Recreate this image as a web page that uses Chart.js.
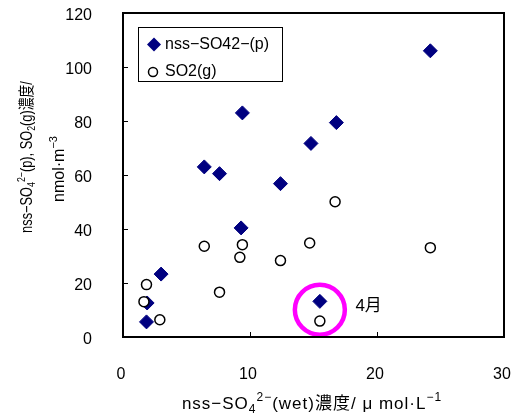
<!DOCTYPE html>
<html>
<head>
<meta charset="utf-8">
<script src="https://cdn.jsdelivr.net/npm/chart.js@4"></script>
<style>
  html, body { margin: 0; padding: 0; background: #fff; }
  #wrap { width: 519px; height: 415px; }
</style>
</head>
<body>
<div id="wrap"><canvas id="chart" width="519" height="415"></canvas></div>
<script>
// ── data ─────────────────────────────────────────
const xTicks = [0, 10, 20, 30];
const yTicks = [0, 20, 40, 60, 80, 100, 120];

// nss-SO4 2- (p) vs wet concentration
const wetP = [24.2, 9.4, 16.8, 14.8, 6.4, 7.6, 12.4, 9.3, 3.0, 15.5, 1.85, 1.9];
const so4p = [106, 83, 79.4, 71.7, 63, 60.5, 56.8, 40.4, 23.3, 13.2, 5.6, 12.6];

// SO2 (g) vs wet concentration
const wetG = [24.2, 9.4, 16.7, 14.7, 6.4, 7.6, 12.4, 9.2, 2.9, 15.5, 1.85, 1.65];
const so2g = [33.1, 34.2, 50.1, 34.8, 33.6, 16.6, 28.3, 29.5, 6.4, 5.9, 19.4, 13.1];

const seriesNames = ['nss−SO42−(p)', 'SO2(g)'];

// highlighted month (April)
const aprilMark  = [15.5, 10.1];
const aprilLabel = '4月';
const aprilText  = [18.3, 11.3];

const FONT = '"Liberation Sans", "Noto Sans CJK JP", sans-serif';
const NAVY = '#000080';

// rich text: [text, 'n' | 'sub' | 'sup']
const xTitle = [['nss−SO', 'n'], ['4', 'sub'], ['2−', 'sup'], ['(wet)濃度/ μ mol·L', 'n'], ['−1', 'sup']];
const yTitle1 = [['nss−SO', 'n'], ['4', 'sub'], ['2−', 'sup'], ['(p), SO', 'n'], ['2', 'sub'], ['(g)濃度/', 'n']];
const yTitle2 = [['nmol·m', 'n'], ['−3', 'sup']];

function drawRich(ctx, segs, cx, cy, opt) {
  const size = opt.size, small = Math.round(size * 0.68);
  const fontOf = k => (k === 'n' ? size : small) + 'px ' + FONT;
  ctx.save();
  ctx.translate(cx, cy);
  if (opt.rot) ctx.rotate(opt.rot);
  if (opt.squeeze) ctx.scale(opt.squeeze, 1);
  ctx.letterSpacing = (opt.spacing || 0) + 'px';
  let w = 0;
  segs.forEach(([t, k]) => { ctx.font = fontOf(k); w += ctx.measureText(t).width; });
  let x = -w / 2;
  ctx.fillStyle = '#000';
  ctx.textBaseline = 'alphabetic';
  ctx.textAlign = 'left';
  segs.forEach(([t, k]) => {
    ctx.font = fontOf(k);
    const dy = k === 'sup' ? -size * 0.45 : k === 'sub' ? size * 0.2 : 0;
    ctx.fillText(t, x, size * 0.36 + dy);
    x += ctx.measureText(t).width;
  });
  ctx.restore();
}

// frame, inner tick marks, legend, titles, label
const decor = {
  id: 'decor',
  afterDraw(chart) {
    const { ctx, chartArea: a, scales } = chart;
    ctx.save();
    ctx.strokeStyle = '#000';
    ctx.lineWidth = 2;
    ctx.strokeRect(a.left, a.top, a.right - a.left, a.bottom - a.top);

    ctx.lineWidth = 1;
    ctx.beginPath();
    yTicks.forEach(v => {
      const y = Math.round(scales.y.getPixelForValue(v)) + 0.5;
      ctx.moveTo(a.left, y); ctx.lineTo(a.left + 5, y);
    });
    xTicks.forEach(v => {
      const x = Math.round(scales.x.getPixelForValue(v)) + 0.5;
      ctx.moveTo(x, a.bottom); ctx.lineTo(x, a.bottom - 5);
    });
    ctx.stroke();

    // legend box
    ctx.lineWidth = 1;
    ctx.strokeRect(138.5, 27.5, 144, 54);
    ctx.fillStyle = NAVY;
    ctx.beginPath();
    ctx.moveTo(154, 37.5); ctx.lineTo(161, 44.5); ctx.lineTo(154, 51.5); ctx.lineTo(147, 44.5);
    ctx.closePath(); ctx.fill();
    ctx.strokeStyle = '#000';
    ctx.lineWidth = 1.5;
    ctx.beginPath();
    ctx.arc(153, 72, 4.5, 0, Math.PI * 2);
    ctx.stroke();
    ctx.fillStyle = '#000';
    ctx.font = '16px ' + FONT;
    ctx.textBaseline = 'middle';
    ctx.textAlign = 'left';
    ctx.fillText(seriesNames[0], 165, 45);
    ctx.fillText(seriesNames[1], 165, 72);

    // annotation text
    ctx.font = '17px ' + FONT;
    ctx.fillText(aprilLabel, scales.x.getPixelForValue(aprilText[0]), scales.y.getPixelForValue(aprilText[1]));

    // axis titles
    drawRich(ctx, xTitle, 312, 403, { size: 17, spacing: 1 });
    drawRich(ctx, yTitle1, 26, 157, { size: 16, rot: -Math.PI / 2, squeeze: 0.8 });
    drawRich(ctx, yTitle2, 58, 169, { size: 16, rot: -Math.PI / 2 });
    ctx.restore();
  }
};

const tickFont = { family: FONT, size: 16 };
const noPad = () => ({ left: 0, top: 0, right: 0, bottom: 0 });

new Chart(document.getElementById('chart').getContext('2d'), {
  type: 'scatter',
  data: {
    datasets: [
      {
        label: seriesNames[1],
        data: wetG.map((x, i) => ({ x, y: so2g[i] })),
        pointStyle: 'circle', pointRadius: 5,
        borderColor: '#000', borderWidth: 1.5, backgroundColor: '#fff',
        order: 0, clip: false
      },
      {
        label: seriesNames[0],
        data: wetP.map((x, i) => ({ x, y: so4p[i] })),
        pointStyle: 'rectRot', pointRadius: 7,
        borderColor: NAVY, borderWidth: 1, backgroundColor: NAVY,
        order: 1, clip: false
      },
      {
        label: aprilLabel,
        data: [{ x: aprilMark[0], y: aprilMark[1] }],
        pointStyle: 'circle', pointRadius: 25,
        borderColor: '#ff00ff', borderWidth: 4.5, backgroundColor: 'rgba(0,0,0,0)',
        order: 2, clip: false
      }
    ]
  },
  options: {
    responsive: false,
    animation: false,
    events: [],
    layout: { autoPadding: false, padding: { top: 13, right: 15, left: 0, bottom: 0 } },
    plugins: { legend: { display: false }, tooltip: { enabled: false } },
    scales: {
      x: {
        type: 'linear', min: 0, max: 30,
        afterBuildTicks: s => { s.ticks = xTicks.map(v => ({ value: v })); },
        afterFit: s => { s.height = 78; s.paddingLeft = 0; s.paddingRight = 0; s.getPadding = noPad; },
        grid: { display: false },
        border: { display: false },
        ticks: { font: tickFont, color: '#000', padding: 20, labelOffset: -2, maxRotation: 0 }
      },
      y: {
        type: 'linear', min: 0, max: 120,
        afterBuildTicks: s => { s.ticks = yTicks.map(v => ({ value: v })); },
        afterFit: s => { s.width = 123; s.paddingTop = 0; s.paddingBottom = 0; s.getPadding = noPad; },
        grid: { display: false },
        border: { display: false },
        ticks: { font: tickFont, color: '#000', padding: 23, labelOffset: 3 }
      }
    }
  },
  plugins: [decor]
});
</script>
</body>
</html>
